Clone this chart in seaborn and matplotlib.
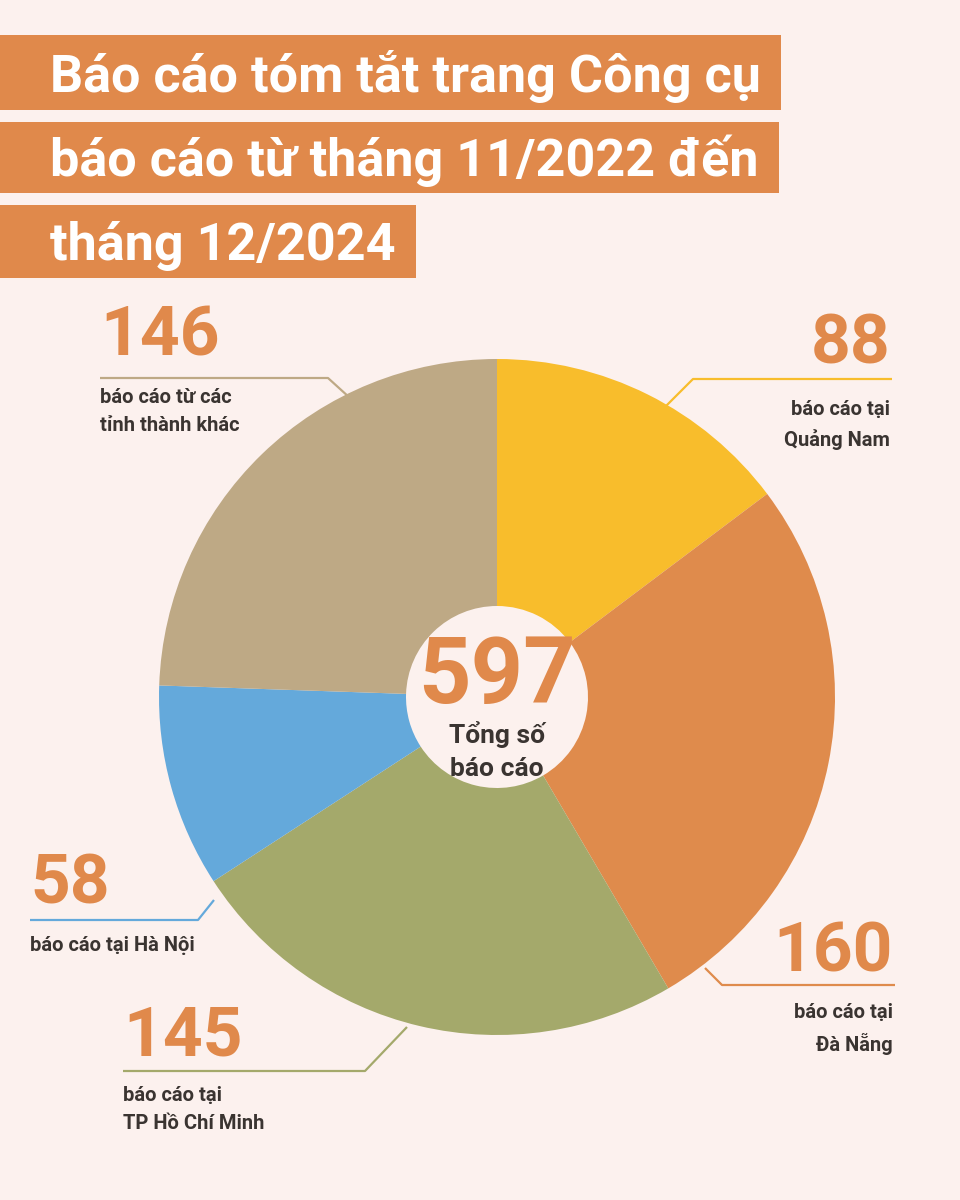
import matplotlib.pyplot as plt
import seaborn as sns
from matplotlib.patches import Rectangle

# data
regions = ["Quảng Nam", "Đà Nẵng", "TP Hồ Chí Minh", "Hà Nội", "tỉnh thành khác"]
counts = [88, 160, 145, 58, 146]
colors = ["#F8BD2C", "#DF8B4C", "#A4A96B", "#64A9DB", "#BEA985"]
labels = ["báo cáo tại\nQuảng Nam", "báo cáo tại\nĐà Nẵng", "báo cáo tại\nTP Hồ Chí Minh",
          "báo cáo tại Hà Nội", "báo cáo từ các\ntỉnh thành khác"]
title_lines = ["Báo cáo tóm tắt trang Công cụ", "báo cáo từ tháng 11/2022 đến", "tháng 12/2024"]
center_label = "Tổng số\nbáo cáo"

BG = "#FCF1EE"
ORANGE = "#E0894B"
DARK = "#3A3431"

sns.set_theme(style="white")
plt.rcParams["font.family"] = ["Roboto", "DejaVu Sans"]

fig = plt.figure(figsize=(9.6, 12), dpi=100, facecolor=BG)
ax = fig.add_axes([0, 0, 1, 1])
ax.set_facecolor(BG)

H = 1200
def py(y):
    # pixel y from top -> data y
    return H - y

# donut
R = 338
ax.pie(counts, colors=colors, startangle=90, counterclock=False,
       center=(497, py(697)), radius=R,
       wedgeprops=dict(width=R - 91, linewidth=0))
ax.set_xlim(0, 960)
ax.set_ylim(0, H)
ax.set_aspect("equal")
ax.axis("off")

# title bands
title_base = [92, 176, 260]
band_y = [(35, 110), (122, 193), (205, 278)]
fig.canvas.draw()
renderer = fig.canvas.get_renderer()
for line, yb, (y0, y1) in zip(title_lines, title_base, band_y):
    t = ax.text(50, py(yb), line, color="white", fontsize=37.5, fontweight="bold",
                va="baseline", ha="left", zorder=3)
    bb = t.get_window_extent(renderer)
    right = bb.x1 + 20
    ax.add_patch(Rectangle((0, py(y1)), right, y1 - y0, facecolor=ORANGE,
                           edgecolor="none", zorder=2))

# leader lines: (horizontal start, horizontal end, elbow end)
leaders = {
    0: [(892, 379), (693, 379), (665, 407)],
    1: [(895, 985), (722, 985), (705, 968)],
    2: [(123, 1071), (365, 1071), (407, 1027)],
    3: [(30, 920), (198, 920), (214, 900)],
    4: [(100, 378), (328, 378), (350, 398)],
}
for i, pts in leaders.items():
    ax.plot([p[0] for p in pts], [py(p[1]) for p in pts], color=colors[i], lw=1.6,
            solid_capstyle="butt", zorder=1)

# numbers and labels
num_pos = {
    0: (890, 364, "right"),
    1: (893, 972, "right"),
    2: (123, 1056, "left"),
    3: (30, 904, "left"),
    4: (100, 355, "left"),
}
lab_pos = {
    0: 400,
    1: 1003,
    2: 1086,
    3: 936,
    4: 388,
}
for i, (x, yb, ha) in num_pos.items():
    ax.text(x, py(yb), str(counts[i]), color=ORANGE, fontsize=50, fontweight="bold",
            ha=ha, va="baseline")
    ax.text(x, py(lab_pos[i]), labels[i], color=DARK, fontsize=14.5, fontweight="bold",
            ha=ha, va="top", linespacing=1.6, multialignment=ha)

# center total
ax.text(497, py(703), str(sum(counts)), color=ORANGE, fontsize=66, fontweight="bold",
        ha="center", va="baseline")
ax.text(497, py(721), center_label, color=DARK, fontsize=19, fontweight="bold",
        ha="center", va="top", linespacing=1.45)

fig.savefig("out.png", dpi=100, facecolor=BG)
